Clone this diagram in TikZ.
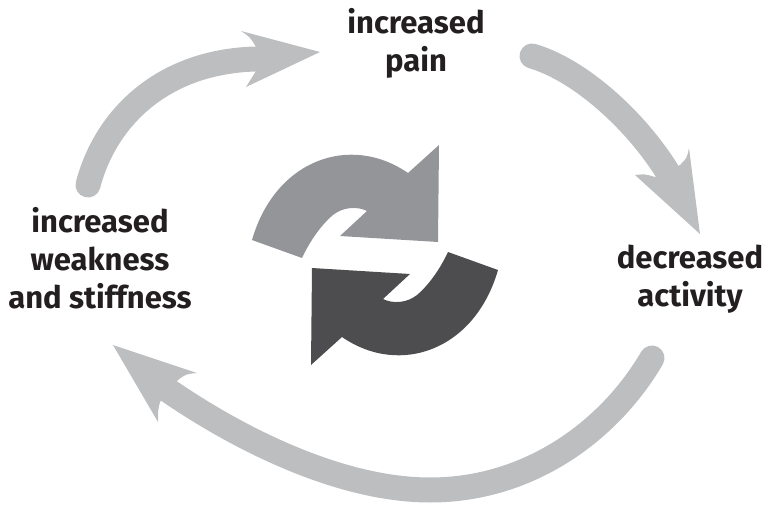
\documentclass[tikz,border=0pt]{standalone}
\usepackage{fontspec}
\setmainfont{Fira Sans}
\definecolor{cyc}{HTML}{BCBEC0}
\definecolor{lightc}{HTML}{939598}
\definecolor{darkc}{HTML}{4D4D4F}
\definecolor{txt}{HTML}{231F20}
\newcommand{\myhalfarrow}{(-123,-15) .. controls (-100,-95) and (-25,-122) .. (33,-82) -- (64,-110) -- (63,-13) -- (-35,-19) -- (-8,-44) .. controls (-18,-49) and (-32,-48) .. (-42,-40) .. controls (-55,-29) and (-66,-12) .. (-73,3) -- cycle}
\begin{document}
\begin{tikzpicture}[x=1pt,y=-1pt,
  lbl/.style={font=\fontsize{31}{38}\selectfont\bfseries, text=txt, align=center, inner sep=0pt, anchor=base},
  cycline/.style={line width=25pt, draw=cyc, line cap=round},
  cychead/.style={fill=cyc, draw=none}]
\useasboundingbox (0,0) rectangle (772,506);
% labels
\node[lbl] (pain) at (416,71) {increased\\pain};
\node[lbl] (activity) at (690,306) {decreased\\activity};
\node[lbl] (weak) at (100,308) {increased\\weakness\\and stiffness};
% connectors
\coordinate (a1s) at (88,185);
\coordinate (a1e) at (255,59);
\draw[cycline] (a1s) .. controls (105,120) and (160,62) .. (a1e);
\fill[cychead] (320,52) -- (241,31) .. controls (250,37) .. (256,47) -- (256,71) .. controls (251,79) .. (246,87) -- cycle;
\coordinate (a2s) at (532,56);
\coordinate (a2e) at (667,171);
\draw[cycline] (a2s) .. controls (580,70) and (635,120) .. (a2e);
\fill[cychead] (700,234) -- (689,148) .. controls (687,158) .. (680,165) -- (655,177) .. controls (645,174) .. (635,175) -- cycle;
\coordinate (a3s) at (652,358);
\coordinate (a3m) at (430,490);
\coordinate (a3e) at (169,391);
\draw[cycline] (a3s) .. controls (610,430) and (530,490) .. (a3m) .. controls (340,490) and (239,439) .. (a3e);
\fill[cychead] (113,345) -- (197,373) .. controls (186,374) .. (178,380) -- (160,402) .. controls (158,410) .. (158,422) -- cycle;
% central cycle symbol
\begin{scope}[shift={(375,255)}]
\fill[lightc] \myhalfarrow;
\fill[darkc, rotate=180] \myhalfarrow;
\end{scope}
\end{tikzpicture}
\end{document}
